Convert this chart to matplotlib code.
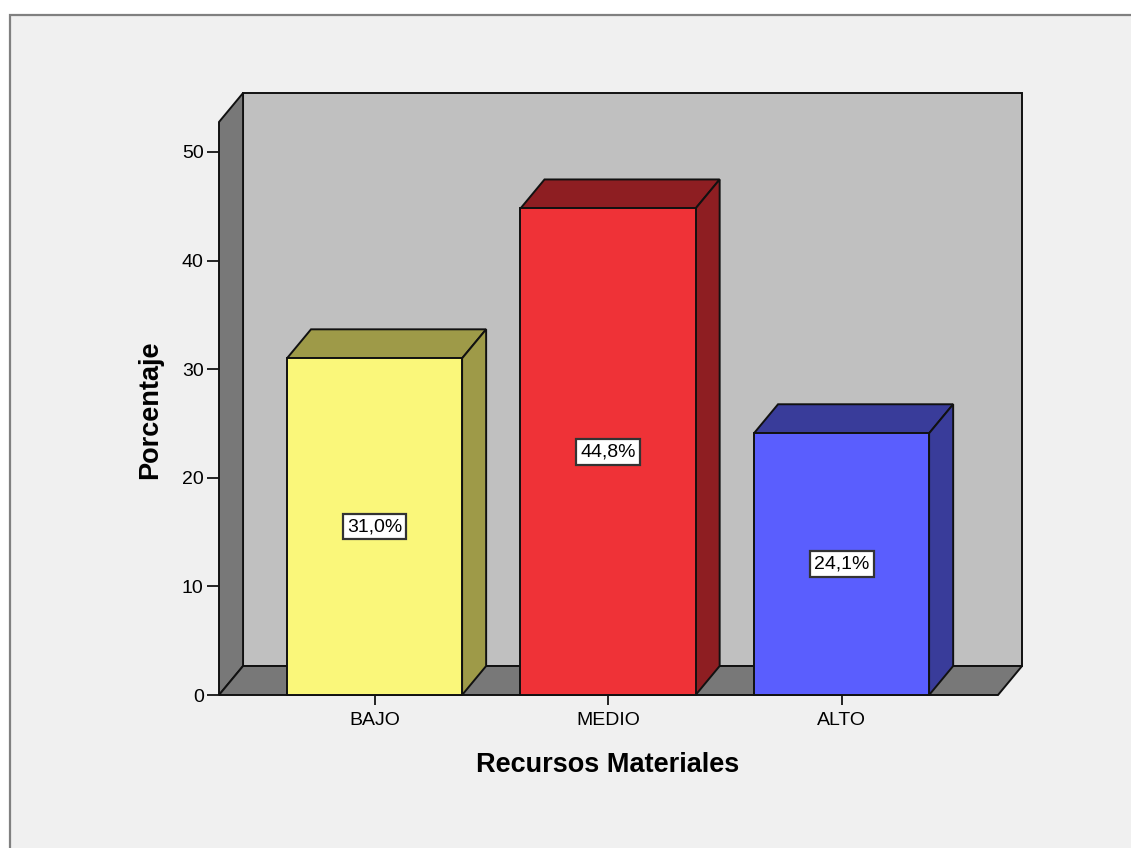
import matplotlib.pyplot as plt
from matplotlib.patches import Polygon, Rectangle

plt.rcParams['font.family'] = ['Liberation Sans', 'DejaVu Sans']

categorias = ['BAJO', 'MEDIO', 'ALTO']
porcentajes = [31.0, 44.8, 24.1]
etiquetas = ['31,0%', '44,8%', '24,1%']
colores_frente = ['#faf77a', '#ef3237', '#5a5efe']
colores_lado = ['#9e9a48', '#8e1e22', '#393c9a']
yticks = [0, 10, 20, 30, 40, 50]

W, H = 1131, 848
fig = plt.figure(figsize=(W / 100, H / 100), dpi=100, facecolor='white')

# gray panel with a border, running off the right and bottom edges
panel = Rectangle((10 / W, -0.1), 1.2, (H - 15) / H + 0.1,
                  transform=fig.transFigure, facecolor='#f0f0f0',
                  edgecolor='#808080', lw=1.6, zorder=-10)
fig.add_artist(panel)

ax = fig.add_axes([219 / W, (H - 695) / H, (998 - 219) / W, (695 - 122) / H])
ax.set_facecolor('none')
for s in ax.spines.values():
    s.set_visible(False)

xmin, xmax = -0.666, 2.670
ymax = 52.76
dx, dy = 0.103, 2.67      # depth of the 3d effect, in data units
ancho = 0.75
lw = 1.4
ec = '#111111'
ax.set_xlim(xmin, xmax)
ax.set_ylim(0, ymax)

# back wall, left wall, floor
ax.add_patch(Polygon([(xmin + dx, dy), (xmax + dx, dy), (xmax + dx, ymax + dy), (xmin + dx, ymax + dy)],
                     closed=True, fc='#c0c0c0', ec=ec, lw=lw, clip_on=False, zorder=1))
ax.add_patch(Polygon([(xmin, 0), (xmin + dx, dy), (xmin + dx, ymax + dy), (xmin, ymax)],
                     closed=True, fc='#787878', ec=ec, lw=lw, clip_on=False, zorder=2))
ax.add_patch(Polygon([(xmin, 0), (xmax, 0), (xmax + dx, dy), (xmin + dx, dy)],
                     closed=True, fc='#787878', ec=ec, lw=lw, clip_on=False, zorder=2))

for i, v in enumerate(porcentajes):
    x0, x1 = i - ancho / 2, i + ancho / 2
    ax.add_patch(Rectangle((x0, 0), ancho, v, fc=colores_frente[i], ec=ec,
                           lw=lw, clip_on=False, zorder=4))
    ax.add_patch(Polygon([(x0, v), (x1, v), (x1 + dx, v + dy), (x0 + dx, v + dy)],
                         closed=True, fc=colores_lado[i], ec=ec, lw=lw,
                         clip_on=False, zorder=3))
    ax.add_patch(Polygon([(x1, 0), (x1 + dx, dy), (x1 + dx, v + dy), (x1, v)],
                         closed=True, fc=colores_lado[i], ec=ec, lw=lw,
                         clip_on=False, zorder=3))
    ax.text(i, v / 2, etiquetas[i], ha='center', va='center', fontsize=14, zorder=6,
            bbox=dict(boxstyle='square,pad=0.22', fc='white', ec='#333333', lw=1.6))

ax.set_yticks(yticks)
ax.set_xticks(range(len(categorias)), categorias)
ax.tick_params(axis='y', length=9, width=1.2, pad=2, labelsize=14, color='black')
ax.tick_params(axis='x', length=7, width=1.2, pad=5, labelsize=14, color='black')

fig.text(150 / W, 1 - 410 / H, 'Porcentaje', rotation=90, ha='center', va='center',
         fontsize=19.5, fontweight='bold')
fig.text(608 / W, 1 - 765 / H, 'Recursos Materiales', ha='center', va='center',
         fontsize=19.5, fontweight='bold')

fig.savefig('out.png', dpi=100, facecolor='white')
